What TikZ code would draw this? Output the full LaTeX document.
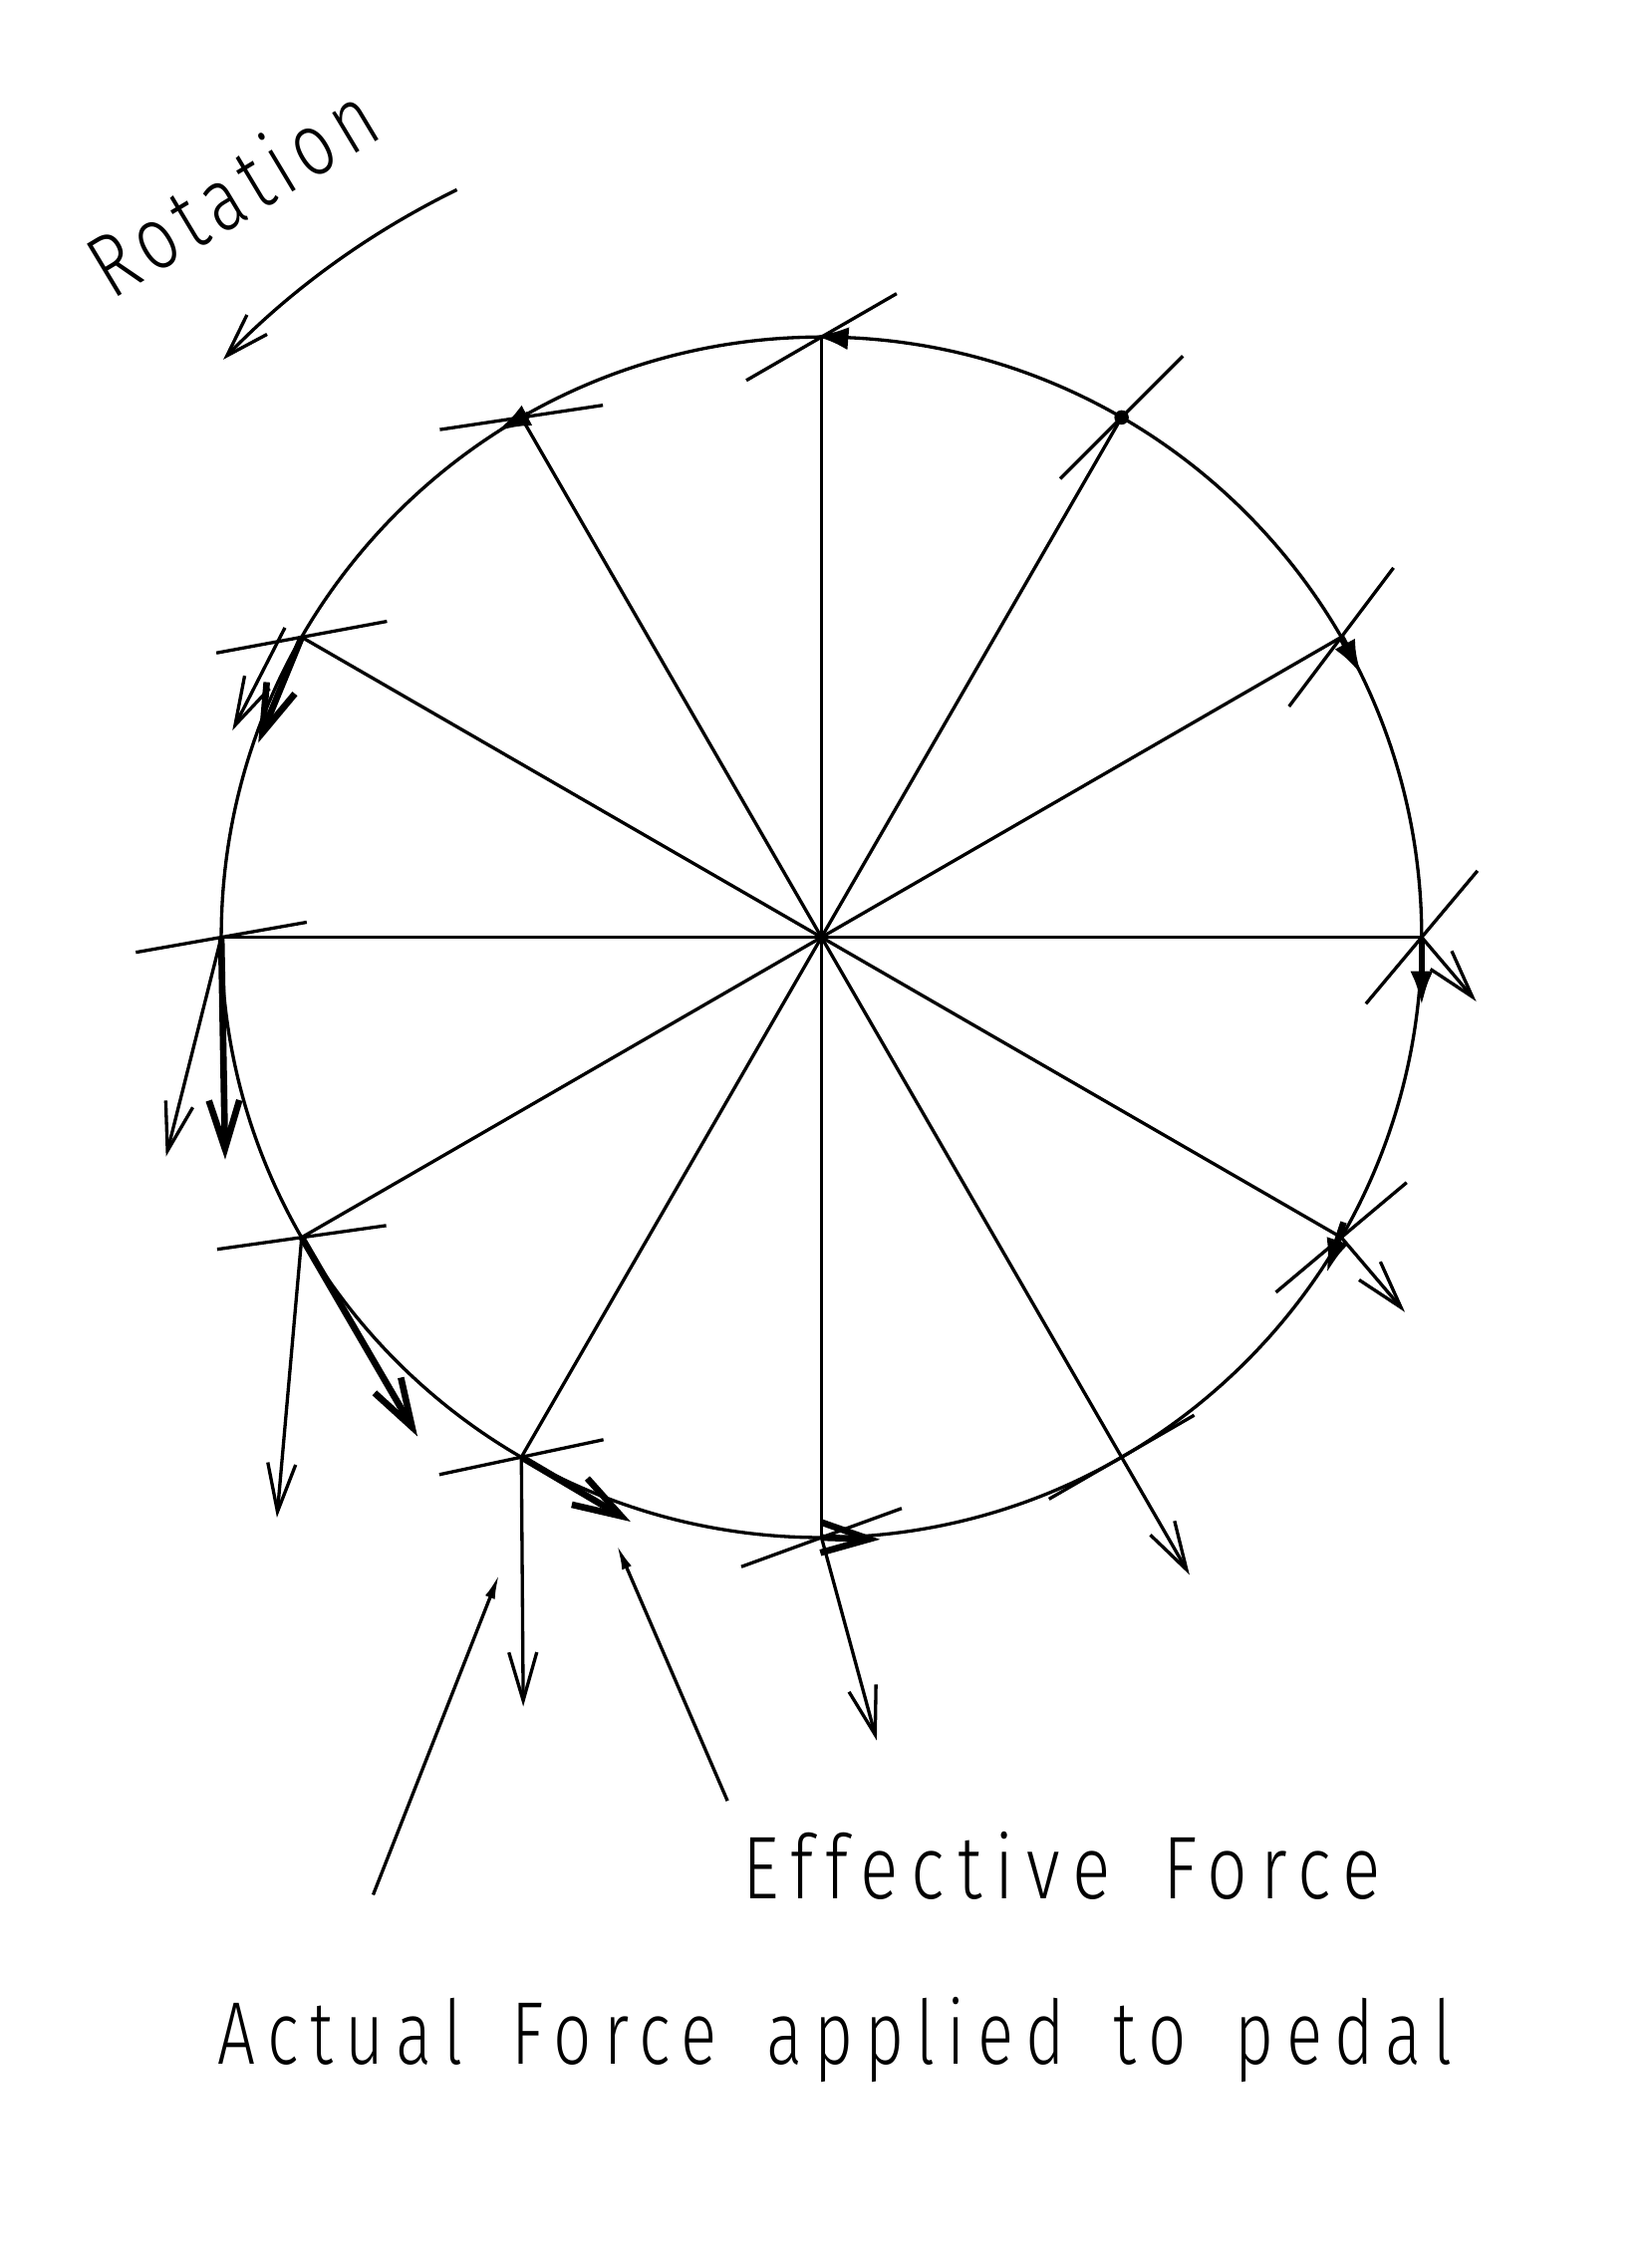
\documentclass[tikz,border=0pt]{standalone}
\usepackage{fontspec}
\newfontfamily\cadfont{Fira Sans Light}[FakeStretch=0.78, LetterSpace=14, WordSpace=1.6]
\newfontfamily\cadfontRot{Fira Sans Light}[FakeStretch=0.78, LetterSpace=9]
\usetikzlibrary{arrows.meta, calc, positioning}
\tikzset{
    spoke/.style={line width=1.3pt},
    crossLine/.style={line width=1.3pt},
    forceActual/.style={-{Straight Barb[length=19pt, width=11pt]}, line width=1.3pt},
    forceEffective/.style={-{Straight Barb[length=19pt, width=12pt]}, line width=2.6pt},
    forceTiny/.style={-{Latex[length=14pt, width=9pt]}, line width=2.6pt},
    rotArrow/.style={-{Straight Barb[length=17pt, width=11pt]}, line width=1.3pt},
    pointer/.style={-{Latex[length=10pt, width=4pt]}, line width=1.3pt},
    textLabel/.style={font=\cadfont\fontsize{35}{40}\selectfont, inner sep=0pt},
}
\newcommand{\drawCross}[3]{
    \draw[crossLine] ($(p#1)+(#2:-#3)$) -- ($(p#1)+(#2:#3)$);
}
\newcommand{\drawForce}[3][forceActual]{
    \draw[#1] (p#2) -- ++(#3);
}

\begin{document}
\begin{tikzpicture}[x=0.02cm, y=0.02cm]
    \useasboundingbox (-568,-920) rectangle (571.5,648);

    \coordinate (O) at (0,0);
    \foreach \a in {0,30,...,330} {
        \coordinate (p\a) at (\a:415);
        \draw[spoke] (O) -- (p\a);
    }
    \draw[spoke] (O) circle[radius=415];

    % lines across each pedal position
    \drawCross{90}{30}{60}
    \drawCross{60}{45}{60}
    \drawCross{30}{53}{60}
    \drawCross{0}{50}{60}
    \drawCross{330}{40}{59}
    \drawCross{300}{30}{58}
    \drawCross{270}{20}{59}
    \drawCross{240}{12}{58}
    \drawCross{210}{8}{59}
    \drawCross{180}{10}{60}
    \drawCross{150}{10.5}{60}
    \drawCross{120}{8.5}{57}

    % actual force
    \coordinate (f300) at (300:509);
    \draw[forceActual] (p300) -- (f300);
    \drawForce{0}{37.7,-44.3}
    \drawForce{330}{44,-51.6}
    \drawForce{270}{38.2,-140.3}
    \drawForce{240}{1.3,-172.4}
    \drawForce{210}{-17.1,-193.7}
    \drawForce{180}{-38.2,-151.6}
    \draw[forceActual] ($(p150)+(-11.6,6.5)$) -- ($(p150)+(-47.9,-64.5)$);

    % effective force
    \fill (p60) circle[radius=5];
    \draw[forceTiny] ($(p90)+(6,0)$) -- ($(p90)+(-6,1)$);
    \draw[forceTiny] ($(p120)+(5,2)$) -- ($(p120)+(-18,-10)$);
    \drawForce[forceTiny]{30}{14.1,-26.5}
    \drawForce[forceTiny]{0}{0,-48}
    \draw[forceTiny] ($(p330)+(1.6,10.5)$) -- ($(p330)+(-10.4,-25.5)$);
    \drawForce[forceEffective]{270}{40.5,-1.3}
    \drawForce[forceEffective]{240}{75.5,-44.6}
    \drawForce[forceEffective]{210}{80.1,-137.6}
    \drawForce[forceEffective]{180}{2.7,-153.7}
    \drawForce[forceEffective]{150}{-30,-73}

    % rotation
    \draw[rotArrow] (O) ++(116:575) arc[start angle=116, end angle=136, radius=575];
    \node[textLabel, font=\cadfontRot\fontsize{35}{40}\selectfont, anchor=base west, rotate=31] (rotLabel) at (-491,440) {Rotation};

    % labels
    \node[textLabel, anchor=base west, xscale=1.025] (effLabel) at (-55,-665) {Effective Force};
    \node[textLabel, anchor=base west, xscale=0.966] (actLabel) at (-418,-779) {Actual Force applied to pedal};
    \coordinate (effTail) at (-65,-597);
    \coordinate (effTip) at (-141.6,-419.8);
    \coordinate (actTail) at (-310,-662);
    \coordinate (actTip) at (-222.7,-440);
    \draw[pointer] (effTail) -- (effTip);
    \draw[pointer] (actTail) -- (actTip);

\end{tikzpicture}
\end{document}
